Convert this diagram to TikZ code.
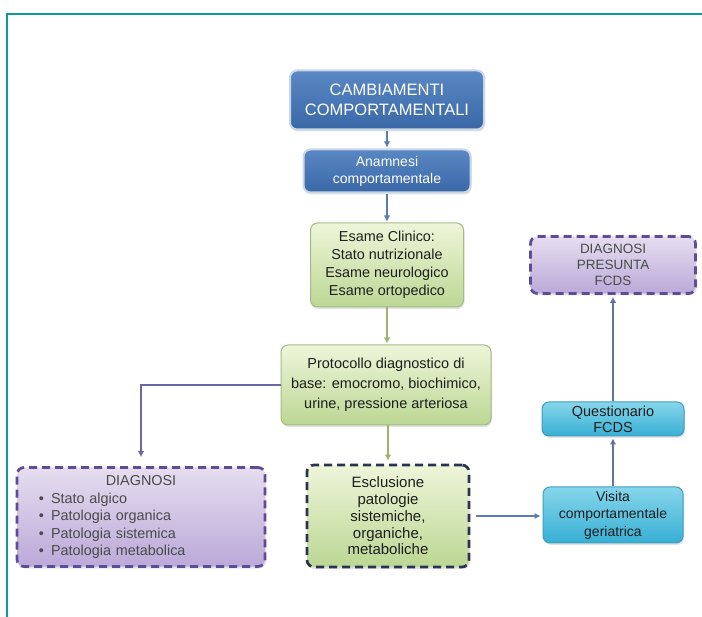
\documentclass[tikz,border=0pt]{standalone}
\usepackage{fontspec}
\setmainfont{Liberation Sans}
\usetikzlibrary{arrows.meta,shadows}
\definecolor{teal1}{HTML}{0E9A98}
\definecolor{bluefillA}{HTML}{5A88C4}
\definecolor{bluefillB}{HTML}{3A67A6}
\definecolor{blueedge}{HTML}{C9D6E8}
\definecolor{greenA}{HTML}{EEF5D9}
\definecolor{greenB}{HTML}{BCD794}
\definecolor{greenedge}{HTML}{A3BB84}
\definecolor{purpA}{HTML}{E6DDF0}
\definecolor{purpB}{HTML}{BBA9D8}
\definecolor{purpedge}{HTML}{5E4C96}
\definecolor{cyanA}{HTML}{86D6EA}
\definecolor{cyanB}{HTML}{38AFD5}
\definecolor{cyanedge}{HTML}{3E9EC0}
\definecolor{navyedge}{HTML}{2A3452}
\definecolor{txtdark}{HTML}{1E1E1E}
\definecolor{txtgray}{HTML}{4A4A4A}
\definecolor{arrblue}{HTML}{5C7CAE}
\definecolor{arrgreen}{HTML}{9DB46F}
\definecolor{arrpurp}{HTML}{6B66A4}
\definecolor{arrslate}{HTML}{66709E}
\begin{document}
\begin{tikzpicture}[x=1pt,y=-1pt,
  boxbase/.style={rounded corners=7pt, align=center, inner sep=2pt,
    drop shadow={shadow xshift=1pt, shadow yshift=-2pt, opacity=0.22}},
  bluebox/.style={boxbase, top color=bluefillA, bottom color=bluefillB,
    draw=blueedge, line width=2pt, text=white},
  greenbox/.style={boxbase, top color=greenA, bottom color=greenB,
    draw=greenedge, line width=1pt, text=txtdark},
  purpbox/.style={boxbase, top color=purpA, bottom color=purpB,
    draw=purpedge, line width=2.7pt, dash pattern=on 8pt off 5pt, text=txtgray},
  esclbox/.style={boxbase, top color=greenA, bottom color=greenB,
    draw=navyedge, line width=2.7pt, dash pattern=on 8pt off 5pt, text=txtdark},
  cyanbox/.style={boxbase, top color=cyanA, bottom color=cyanB,
    draw=cyanedge, line width=1pt, text=txtdark},
  conn/.style={line width=2.6pt, -{Latex[length=6pt,width=6.5pt]}}
]
\useasboundingbox (0,0) rectangle (702,617);
% frame
\draw[teal1, line width=2.4pt] (7,617) -- (7,14) -- (702,14);

\node[bluebox, minimum width=194pt, minimum height=59pt,
  font=\fontsize{16.5}{20}\selectfont] (camb) at (387,100)
  {CAMBIAMENTI\\COMPORTAMENTALI};
\node[bluebox, minimum width=167pt, minimum height=43pt,
  font=\fontsize{14}{17}\selectfont] (anam) at (387,171)
  {Anamnesi\\comportamentale};
\node[greenbox, minimum width=153pt, minimum height=84pt,
  font=\fontsize{14.4}{18}\selectfont] (esame) at (387,265)
  {Esame Clinico:\\Stato nutrizionale\\Esame neurologico\\Esame ortopedico};
\node[greenbox, minimum width=210pt, minimum height=80pt,
  font=\fontsize{14.5}{20}\selectfont] (proto) at (386,385)
  {Protocollo diagnostico di\\base: emocromo, biochimico,\\urine, pressione arteriosa};
\node[purpbox, align=left, minimum width=248pt, minimum height=99pt, text width=236pt,
  font=\fontsize{14.4}{17.5}\selectfont] (diag) at (141,517)
  {{\centering DIAGNOSI\par}\hspace*{16pt}\textbullet\hspace{7pt}Stato algico\\
   \hspace*{16pt}\textbullet\hspace{7pt}Patologia organica\\
   \hspace*{16pt}\textbullet\hspace{7pt}Patologia sistemica\\
   \hspace*{16pt}\textbullet\hspace{7pt}Patologia metabolica};
\node[esclbox, minimum width=162pt, minimum height=102pt,
  font=\fontsize{15}{16.8}\selectfont] (escl) at (388,516)
  {Esclusione\\patologie\\sistemiche,\\organiche,\\metaboliche};
\node[cyanbox, minimum width=140pt, minimum height=56pt,
  font=\fontsize{14}{17.5}\selectfont] (visita) at (613,515)
  {Visita\\comportamentale\\geriatrica};
\node[cyanbox, minimum width=142pt, minimum height=34pt,
  font=\fontsize{14.5}{16}\selectfont] (quest) at (613,419)
  {Questionario\\FCDS};
\node[purpbox, minimum width=165pt, minimum height=57pt,
  font=\fontsize{13.5}{16}\selectfont] (pres) at (613,265)
  {DIAGNOSI\\PRESUNTA\\FCDS};

% connectors
\draw[conn, arrblue, shorten <=1pt, shorten >=1pt] (camb.south) -- (anam.north);
\draw[conn, arrblue, shorten <=1pt, shorten >=1pt] (anam.south) -- (esame.north);
\draw[conn, arrgreen, shorten >=1pt] (esame.south) -- (esame.south |- proto.north);
\draw[conn, arrgreen, shorten >=3pt] (proto.south -| escl.north) -- (escl.north);
\draw[conn, arrpurp, shorten >=9pt] (proto.west) -| (diag.north);
\draw[conn, arrblue, shorten <=6pt, shorten >=2pt] (escl.east) -- (escl.east -| visita.west);
\draw[conn, arrslate, shorten >=2pt] (visita.north) -- (quest.south);
\draw[conn, arrslate, shorten >=2pt] (quest.north) -- (pres.south);
\end{tikzpicture}
\end{document}
